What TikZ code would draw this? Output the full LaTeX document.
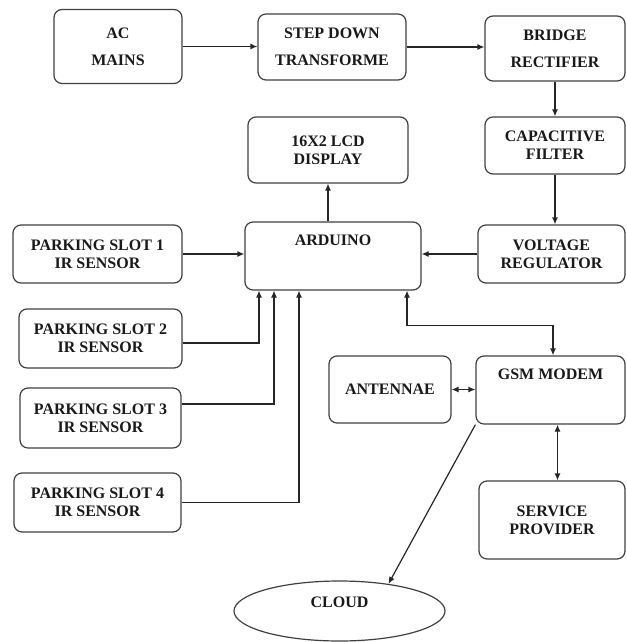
\documentclass[tikz,border=0pt]{standalone}
\usepackage{fontspec}
\setmainfont{Liberation Serif}
\usetikzlibrary{shapes.geometric,arrows.meta}

\tikzset{
  block/.style={draw=black!75, line width=1.2pt, rounded corners=8pt, align=center, inner sep=0pt, text=black!90, font=\bfseries\fontsize{16}{18}\selectfont},
  box/.style 2 args={block, minimum width=#1, minimum height=#2},
  wideline/.style={font=\bfseries\fontsize{16}{27}\selectfont},
  link/.style={draw=black!85, line width=1.2pt},
}

\begin{document}
\begin{tikzpicture}[x=1pt,y=-1pt,>={Latex[length=7pt,width=6pt]}]
\useasboundingbox (0,0) rectangle (626,642);

%POWER SUPPLY
\node[box={128pt}{74pt}, wideline] (acmains) at (118,46.5) {AC\\MAINS};
\node[box={148pt}{66pt}, wideline] (stepdown) at (332,47) {STEP DOWN\\TRANSFORME};
\node[box={140pt}{65pt}, wideline] (bridge) at (555,48.5) {BRIDGE\\RECTIFIER};
\node[box={140pt}{57pt}] (capfilter) at (555,145.5) {CAPACITIVE\\FILTER};
\node[box={147pt}{58pt}] (voltreg) at (551.5,254) {VOLTAGE\\REGULATOR};

%CONTROLLER
\node[box={160pt}{66pt}] (lcd) at (328,150) {16X2 LCD\\DISPLAY};
\node[box={176pt}{68pt}, text depth=31pt] (arduino) at (333,256) {ARDUINO};

%SENSORS
\node[box={169pt}{58pt}] (slot1) at (97.5,254) {PARKING SLOT 1\\IR SENSOR};
\node[box={163pt}{59pt}] (slot2) at (100.5,338.5) {PARKING SLOT 2\\IR SENSOR};
\node[box={161pt}{60pt}] (slot3) at (100.5,418) {PARKING SLOT 3\\IR SENSOR};
\node[box={167pt}{59pt}] (slot4) at (97.5,502.5) {PARKING SLOT 4\\IR SENSOR};

%COMMUNICATION
\node[box={122pt}{67pt}] (antennae) at (390,389.5) {ANTENNAE};
\node[box={149pt}{68pt}, text depth=31pt] (gsm) at (550.5,390) {GSM MODEM};
\node[box={146pt}{78pt}] (provider) at (552,520) {SERVICE\\PROVIDER};
\node[block, rounded corners=0pt, ellipse, minimum width=211pt, minimum height=60pt, text depth=17pt] (cloud) at (339.5,611) {CLOUD};

%CONNECTIONS
\draw[link,->] (acmains.east) -- (acmains.east -| stepdown.west);
\draw[link,->] (stepdown.east) -- (stepdown.east -| bridge.west);
\draw[link,->] (bridge.south) -- (capfilter.north);
\draw[link,->] (capfilter.south) -- (capfilter.south |- voltreg.north);
\draw[link,->] (voltreg.west) -- (voltreg.west -| arduino.east);
\draw[link,->] (lcd.south |- arduino.north) -- (lcd.south);

\draw[link,->] (slot1.east) -- (slot1.east -| arduino.west);
\draw[link,->] ([yshift=-4.5pt]slot2.east) -| ([xshift=-74pt]arduino.south);
\draw[link,->] ([yshift=14pt]slot3.east) -| ([xshift=-59pt]arduino.south);
\draw[link,->] (slot4.east) -| ([xshift=-34pt]arduino.south);

\draw[link,<->] ([xshift=74pt]arduino.south) -- ++(0,35) -| ([xshift=2.5pt]gsm.north);
\draw[link,<->] (antennae.east) -- (antennae.east -| gsm.west);
\draw[link,<->] ([xshift=7pt]gsm.south) -- ([xshift=7pt]gsm.south |- provider.north);
\draw[link,->] (gsm.south west) -- (cloud.29);

\end{tikzpicture}
\end{document}
